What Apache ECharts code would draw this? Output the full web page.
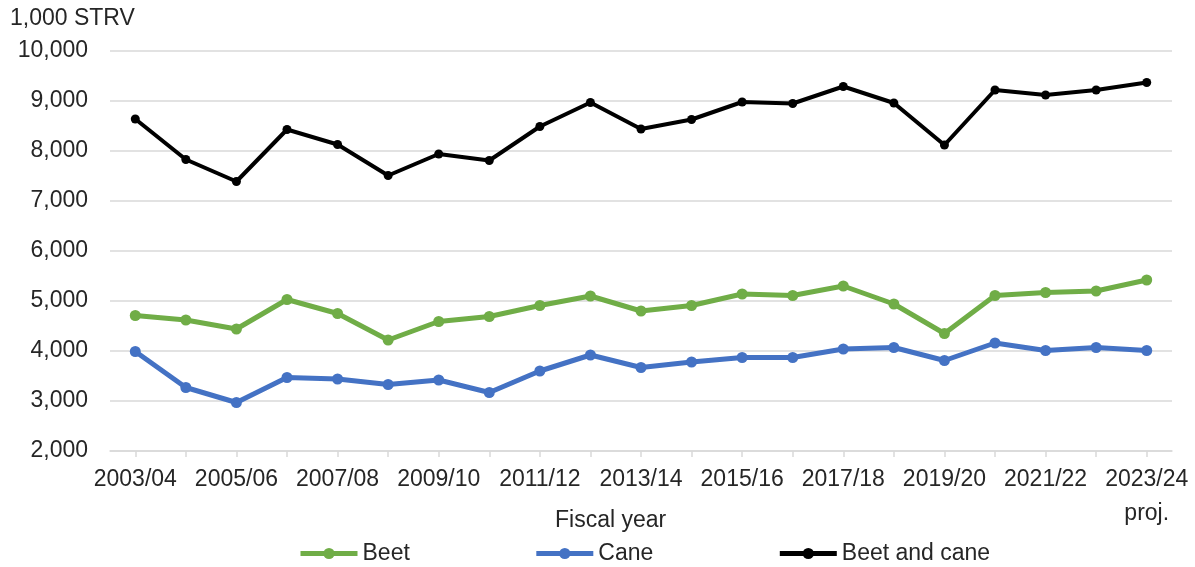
<!DOCTYPE html>
<html>
<head>
<meta charset="utf-8">
<title>Sugar production, beet and cane</title>
<script src="https://cdn.jsdelivr.net/npm/echarts@6/dist/echarts.min.js"></script>
<style>
  html, body { margin: 0; padding: 0; background: #fff; }
  #chart { width: 1195px; height: 567px; }
</style>
</head>
<body>
<div id="chart"></div>
<script>
// Fiscal years (the last one is a projection)
const years = [
  '2003/04', '2004/05', '2005/06', '2006/07', '2007/08', '2008/09', '2009/10',
  '2010/11', '2011/12', '2012/13', '2013/14', '2014/15', '2015/16', '2016/17',
  '2017/18', '2018/19', '2019/20', '2020/21', '2021/22', '2022/23', '2023/24'
];

// Production, 1,000 short tons raw value
const beet = [
  4710, 4620, 4440, 5030, 4750, 4220, 4590, 4690, 4910, 5100, 4800,
  4910, 5140, 5110, 5300, 4940, 4350, 5110, 5170, 5200, 5420
];
const cane = [
  3990, 3270, 2970, 3470, 3440, 3330, 3420, 3170, 3600, 3920, 3670,
  3780, 3870, 3870, 4040, 4070, 3810, 4160, 4010, 4070, 4010
];
const beetAndCane = [
  8640, 7830, 7390, 8430, 8130, 7510, 7940, 7810, 8490, 8970, 8440,
  8630, 8980, 8950, 9290, 8960, 8120, 9220, 9120, 9220, 9370
];

const projectedYear = '2023/24';
const yTicks = { min: 2000, max: 10000, step: 1000 };

const FONT = 'Liberation Sans, Arial, sans-serif';
const TEXT = '#262626';
const GRID = '#d9d9d9';

const chart = echarts.init(document.getElementById('chart'), null, { renderer: 'canvas' });

function lineSeries(name, data, color, width, size) {
  return {
    name: name,
    type: 'line',
    data: data,
    symbol: 'circle',
    symbolSize: size,
    showSymbol: true,
    itemStyle: { color: color },
    lineStyle: { color: color, width: width },
    emphasis: { disabled: true },
    animation: false
  };
}

chart.setOption({
  backgroundColor: '#fff',
  animation: false,
  textStyle: { fontFamily: FONT, color: TEXT },
  grid: { left: 110, right: 23, top: 51, bottom: 116, containLabel: false },
  legend: {
    left: 293,
    top: 537,
    itemGap: 124,
    itemWidth: 57,
    itemHeight: 14,
    lineStyle: { width: 5 },
    textStyle: { fontFamily: FONT, fontSize: 23, color: TEXT },
    data: ['Beet', 'Cane', 'Beet and cane']
  },
  graphic: [
    {
      type: 'text',
      left: 10,
      top: 7,
      style: { text: '1,000 STRV', font: '23px ' + FONT, fill: TEXT }
    },
    {
      type: 'text',
      left: 555,
      top: 509,
      style: { text: 'Fiscal year', font: '23px ' + FONT, fill: TEXT }
    }
  ],
  xAxis: {
    type: 'category',
    data: years,
    boundaryGap: true,
    axisLine: { lineStyle: { color: GRID, width: 1.5 } },
    axisTick: { show: true, alignWithLabel: true, interval: 0, length: 6, lineStyle: { color: GRID, width: 1.5 } },
    axisLabel: {
      interval: 1,
      margin: 12,
      fontSize: 23,
      lineHeight: 34,
      color: TEXT,
      fontFamily: FONT,
      formatter: function (v) { return v === projectedYear ? v + '\nproj.' : v; }
    },
    splitLine: { show: false }
  },
  yAxis: {
    type: 'value',
    min: yTicks.min,
    max: yTicks.max,
    interval: yTicks.step,
    axisLine: { show: false },
    axisTick: { show: false },
    axisLabel: {
      margin: 22,
      fontSize: 23,
      color: TEXT,
      fontFamily: FONT,
      formatter: function (v) { return v.toLocaleString('en-US'); }
    },
    splitLine: { lineStyle: { color: GRID, width: 1.5 } }
  },
  series: [
    lineSeries('Beet', beet, '#70ad47', 5, 11),
    lineSeries('Cane', cane, '#4472c4', 5, 11),
    lineSeries('Beet and cane', beetAndCane, '#000000', 4, 9)
  ]
});
</script>
</body>
</html>
